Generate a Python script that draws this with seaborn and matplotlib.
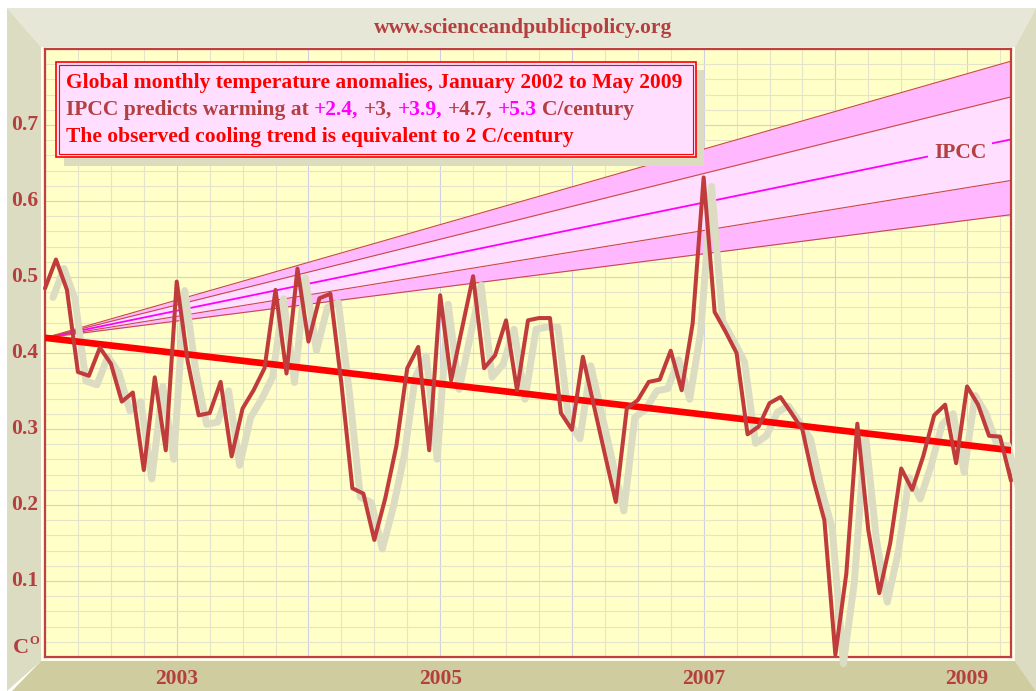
import numpy as np
import pandas as pd
import matplotlib
matplotlib.use("Agg")
import matplotlib.pyplot as plt
import seaborn as sns
from matplotlib.patches import Polygon, Rectangle
from matplotlib.transforms import ScaledTranslation
from matplotlib.ticker import MultipleLocator, FixedLocator

# ---------------- data ----------------
anomalies = [
    0.485, 0.523, 0.483, 0.375, 0.370, 0.407, 0.386, 0.336, 0.348, 0.246, 0.368, 0.272,  # 2002
    0.494, 0.389, 0.318, 0.321, 0.362, 0.264, 0.327, 0.351, 0.380, 0.483, 0.373, 0.511,  # 2003
    0.415, 0.472, 0.478, 0.360, 0.222, 0.215, 0.154, 0.209, 0.277, 0.380, 0.408, 0.272,  # 2004
    0.476, 0.364, 0.433, 0.501, 0.380, 0.397, 0.443, 0.351, 0.443, 0.446, 0.446, 0.321,  # 2005
    0.299, 0.395, 0.331, 0.267, 0.204, 0.327, 0.338, 0.362, 0.365, 0.403, 0.351, 0.439,  # 2006
    0.631, 0.454, 0.428, 0.400, 0.293, 0.303, 0.334, 0.342, 0.321, 0.299, 0.233, 0.180,  # 2007
    0.003, 0.110, 0.307, 0.167, 0.084, 0.150, 0.248, 0.220, 0.264, 0.318, 0.332, 0.255,  # 2008
    0.356, 0.332, 0.291, 0.290, 0.232,                                                   # 2009
]
start_year = 2002
trend_values = [0.42, 0.272]             # observed cooling trend, start / end
ipcc_rates = ["+2.4", "+3", "+3.9", "+4.7", "+5.3"]
ipcc_start = 0.42
ipcc_end = [0.582, 0.627, 0.681, 0.737, 0.784]
x_tick_years = [2003, 2005, 2007, 2009]
y_tick_values = [0.1, 0.2, 0.3, 0.4, 0.5, 0.6, 0.7]

title_url = "www.scienceandpublicpolicy.org"
line1 = "Global monthly temperature anomalies, January 2002 to May 2009"
line3 = "The observed cooling trend is equivalent to 2 C/century"

# ---------------- derived frames ----------------
months = np.arange(len(anomalies))
t = start_year + months / 12.0
df = pd.DataFrame({"t": t, "anom": anomalies})
t_end = t[-1]
trend_df = pd.DataFrame({"t": [start_year, t_end], "v": trend_values})
fan_x = np.array([start_year, t_end])
fan = [np.array([ipcc_start, e]) for e in ipcc_end]

# ---------------- styling ----------------
sns.set_style("white")
plt.rcParams["font.family"] = ["Liberation Serif", "DejaVu Serif"]
plt.rcParams["font.weight"] = "bold"

BROWN = "#b43f3f"
DATA_RED = "#c03c3c"
W, H = 1036, 691
fig = plt.figure(figsize=(W / 100, H / 100), dpi=100)
fig.patch.set_facecolor("white")

# background (pixel coordinates) for bevel frame
bg = fig.add_axes([0, 0, 1, 1], zorder=0)
bg.set_xlim(0, W)
bg.set_ylim(H, 0)
bg.axis("off")
bg.add_patch(Polygon([(7, 8), (1036, 8), (1015, 47), (41, 47)], closed=True, fc="#e7e7d7", ec="none"))
bg.add_patch(Polygon([(7, 8), (41, 47), (41, 661), (7, 691)], closed=True, fc="#dcdcc2", ec="none"))
bg.add_patch(Polygon([(1036, 8), (1036, 691), (1015, 661), (1015, 47)], closed=True, fc="#dcdcc2", ec="none"))
bg.add_patch(Polygon([(12, 691), (41, 661), (1015, 661), (1036, 691)], closed=True, fc="#cfcda0", ec="none"))
bg.add_patch(Rectangle((41, 47), 974, 614, fc="#fdfdea", ec="none"))
bg.text(523, 28, title_url, ha="center", va="center", color=BROWN, fontsize=15.5, fontweight="bold")

# main axes
L, R, T, B = 45, 1011, 49, 657
ax = fig.add_axes([L / W, (H - B) / H, (R - L) / W, (B - T) / H], zorder=5)
ax.set_facecolor("#ffffc8")
ax.set_xlim(start_year, t_end)
ax.set_ylim(0, 0.8)
ax.xaxis.set_major_locator(FixedLocator(np.arange(2002, 2010)))
ax.xaxis.set_minor_locator(MultipleLocator(0.25))
ax.yaxis.set_major_locator(MultipleLocator(0.1))
ax.yaxis.set_minor_locator(MultipleLocator(0.02))
ax.set_axisbelow(True)
ax.grid(which="minor", color="#e4e4ca", lw=0.8)
ax.grid(which="major", color="#d0d0e4", lw=0.8)
ax.tick_params(which="both", length=0, labelbottom=False, labelleft=False)
for s in ax.spines.values():
    s.set_color("#c04040")
    s.set_linewidth(1.6)
    s.set_visible(True)

# IPCC fan
ax.fill_between(fan_x, fan[0], fan[1], color="#ffb8ff", lw=0, zorder=1)
ax.fill_between(fan_x, fan[1], fan[3], color="#ffdeff", lw=0, zorder=1)
ax.fill_between(fan_x, fan[3], fan[4], color="#ffb8ff", lw=0, zorder=1)
for k, vals in enumerate(fan):
    fdf = pd.DataFrame({"t": fan_x, "v": vals})
    if k == 2:
        sns.lineplot(data=fdf, x="t", y="v", ax=ax, color="#ff00ff", lw=1.3, zorder=2)
    else:
        sns.lineplot(data=fdf, x="t", y="v", ax=ax, color="#c84848", lw=0.8, zorder=2)

# shadow of the observed series
sns.lineplot(data=df, x="t", y="anom", ax=ax, color="#dcdcc2", lw=5.0,
             estimator=None, sort=False, zorder=3)
shadow = ax.lines[-1]
shadow.set_transform(ax.transData + ScaledTranslation(8 / 100, -9 / 100, fig.dpi_scale_trans))
shadow.set_solid_capstyle("round")
shadow.set_solid_joinstyle("round")
shadow.set_clip_on(False)

# cooling trend
sns.lineplot(data=trend_df, x="t", y="v", ax=ax, color="#ff0000", lw=4.8, zorder=4)

# observed series
sns.lineplot(data=df, x="t", y="anom", ax=ax, color=DATA_RED, lw=2.9,
             estimator=None, sort=False, zorder=5)
ax.lines[-1].set_clip_on(False)
ax.set_xlabel("")
ax.set_ylabel("")

# IPCC label
ax.text(2002 + (960 - L) / (R - L) * (t_end - 2002), (B - 153) / (B - T) * 0.8, "IPCC",
        ha="center", va="center", color=BROWN, fontsize=15.5, fontweight="bold", zorder=6,
        bbox=dict(boxstyle="square,pad=0.25", fc="#ffdeff", ec="none"))

# tick labels
for yr in x_tick_years:
    ax.text(yr, -(679 - B) / (B - T) * 0.8, str(yr), ha="center", va="center",
            color=BROWN, fontsize=15.5, fontweight="bold", clip_on=False)
ytr = ax.get_yaxis_transform()
for v in y_tick_values:
    ax.text(-0.007, v, f"{v:.1f}", transform=ytr, ha="right", va="center",
            color=BROWN, fontsize=15.5, fontweight="bold", clip_on=False)
bg.text(28.5, 648, "C", ha="right", va="center", color=BROWN, fontsize=16, fontweight="bold")
bg.text(34, 641, "O", ha="center", va="center", color=BROWN, fontsize=9, fontweight="bold")

# overlay: text box
ov = fig.add_axes([0, 0, 1, 1], zorder=10)
ov.set_xlim(0, W)
ov.set_ylim(H, 0)
ov.axis("off")
ov.patch.set_alpha(0)
ov.add_patch(Rectangle((64, 70), 640, 96, fc="#dcdcc0", ec="none"))
ov.add_patch(Rectangle((56, 62), 640, 95, fc="#ffdeff", ec="#ff0000", lw=1.2))
ov.add_patch(Rectangle((59, 65), 634, 89, fc="none", ec="#ff0000", lw=0.8))

FS = 15.5
x0 = 66
ov.text(x0, 83, line1, ha="left", va="center", color="#ff0000", fontsize=FS, fontweight="bold")
ov.text(x0, 137, line3, ha="left", va="center", color="#ff0000", fontsize=FS, fontweight="bold")

fig.canvas.draw()
renderer = fig.canvas.get_renderer()


def text_w(s):
    tt = ov.text(0, 0, s, fontsize=FS, fontweight="bold")
    w = tt.get_window_extent(renderer).width
    tt.remove()
    return w


pieces = [("IPCC predicts warming at ", BROWN)]
for k, r in enumerate(ipcc_rates):
    col = "#ff00ff" if k % 2 == 0 else BROWN
    sep = "" if k == 0 else " "
    suffix = "," if k < len(ipcc_rates) - 1 else ""
    pieces.append((sep + r + suffix, col))
pieces.append((" C/century", BROWN))

bar_w = text_w("|")
prefix = ""
for s, col in pieces:
    lead = s[: len(s) - len(s.lstrip())]
    xoff = text_w(prefix + lead + "|") - bar_w if (prefix + lead) else 0
    ov.text(x0 + xoff, 110, s.strip(), ha="left", va="center", color=col,
            fontsize=FS, fontweight="bold")
    prefix += s

fig.savefig("out.png", dpi=100)
